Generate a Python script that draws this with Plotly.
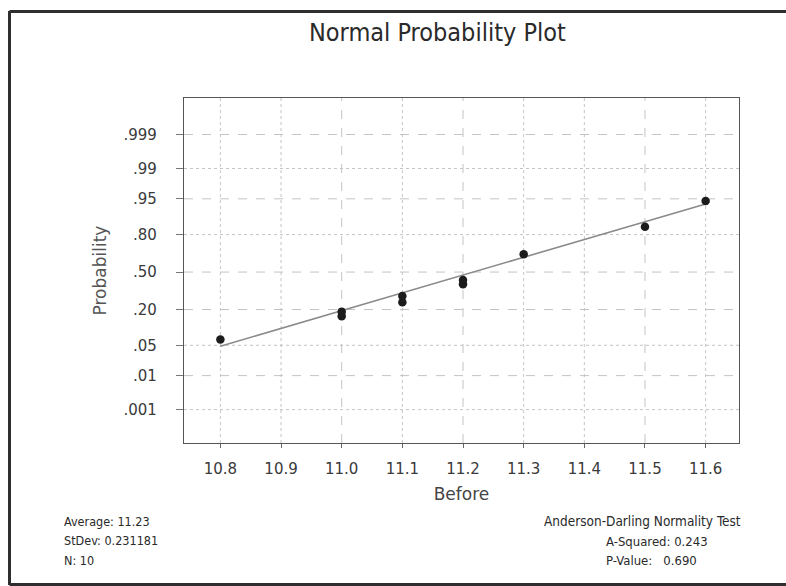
import plotly.graph_objects as go
from statistics import NormalDist

nd = NormalDist()

# ---------------- data ----------------
x_tick_values = [10.8, 10.9, 11.0, 11.1, 11.2, 11.3, 11.4, 11.5, 11.6]
x_tick_labels = ["10.8", "10.9", "11.0", "11.1", "11.2", "11.3", "11.4", "11.5", "11.6"]
prob_tick_values = [0.001, 0.01, 0.05, 0.20, 0.50, 0.80, 0.95, 0.99, 0.999]
prob_tick_labels = [".001", ".01", ".05", ".20", ".50", ".80", ".95", ".99", ".999"]
before_values = [10.8, 11.0, 11.0, 11.1, 11.1, 11.2, 11.2, 11.3, 11.5, 11.6]
plotted_probs = [0.065, 0.161, 0.187, 0.248, 0.295, 0.393, 0.429, 0.655, 0.846, 0.945]
fit_x = [10.8, 11.6]
fit_probs = [0.048, 0.937]
stats_left = ["Average: 11.23", "StDev: 0.231181", "N: 10"]
ad_title = "Anderson-Darling Normality Test"
ad_lines = ["A-Squared: 0.243", "P-Value:   0.690"]

# ---------------- styles ----------------
GRID_DASH_Y = ["dot", "dash", "dot", "dash", "dash", "dot", "dash", "dot", "dash"]
GRID_DASH_X = ["dot", "dot", "dash", "dot", "dash", "dot", "dot", "dash", "dot"]
W, H = 786, 586
ML, MR, MT, MB = 184, 47, 98, 143
PW, PH = W - ML - MR, H - MT - MB


def px_x(px):
    return (px - ML) / PW


def px_y(py):
    return (H - MB - py) / PH


z = lambda p: nd.inv_cdf(p)

fig = go.Figure()

fig.add_trace(go.Scatter(
    x=fit_x, y=[z(p) for p in fit_probs], mode="lines",
    line=dict(color="#8a8a8a", width=1.6), hoverinfo="skip", showlegend=False))

fig.add_trace(go.Scatter(
    x=before_values, y=[z(p) for p in plotted_probs], mode="markers",
    marker=dict(color="#1c1c1c", size=8.5), showlegend=False))

shapes = []
for p, d in zip(prob_tick_values, GRID_DASH_Y):
    shapes.append(dict(type="line", xref="paper", yref="y", x0=0, x1=1,
                       y0=z(p), y1=z(p), layer="below",
                       line=dict(color="#c4c4c4", width=1, dash=d)))
for xv, d in zip(x_tick_values, GRID_DASH_X):
    shapes.append(dict(type="line", xref="x", yref="paper", x0=xv, x1=xv,
                       y0=0, y1=1, layer="below",
                       line=dict(color="#c4c4c4", width=1, dash=d)))
# outer frame (scanned page border)
frame = dict(color="#2e2e2e", width=3)
shapes.append(dict(type="line", xref="paper", yref="paper",
                   x0=px_x(9.5), x1=px_x(9.5), y0=px_y(11), y1=px_y(585), line=frame))
shapes.append(dict(type="line", xref="paper", yref="paper",
                   x0=px_x(9.5), x1=px_x(800), y0=px_y(11.5), y1=px_y(11.5), line=frame))
shapes.append(dict(type="line", xref="paper", yref="paper",
                   x0=px_x(9.5), x1=px_x(800), y0=px_y(584.5), y1=px_y(584.5), line=frame))

NARROW = "DejaVu Sans Condensed, Liberation Sans Narrow, Arial Narrow, DejaVu Sans, sans-serif"
annotations = [
    dict(text="Normal Probability Plot", x=px_x(437), y=px_y(32), xref="paper", yref="paper",
         showarrow=False, xanchor="center", yanchor="middle",
         font=dict(family=NARROW, size=25, color="#2a2a2a")),
]
for i, t in enumerate(stats_left):
    annotations.append(dict(text=t, x=px_x(62), y=px_y(521 + 19.5 * i), xref="paper", yref="paper",
                            showarrow=False, xanchor="left", yanchor="middle",
                            font=dict(family=NARROW, size=12.5, color="#2a2a2a")))
annotations.append(dict(text=ad_title, x=px_x(642), y=px_y(521), xref="paper", yref="paper",
                        showarrow=False, xanchor="center", yanchor="middle",
                        font=dict(family=NARROW, size=13.5, color="#2a2a2a")))
for i, t in enumerate(ad_lines):
    annotations.append(dict(text=t, x=px_x(604), y=px_y(541 + 19.5 * i), xref="paper", yref="paper",
                            showarrow=False, xanchor="left", yanchor="middle",
                            font=dict(family=NARROW, size=13, color="#2a2a2a")))

fig.update_layout(
    width=W, height=H,
    margin=dict(l=ML, r=MR, t=MT, b=MB),
    paper_bgcolor="white", plot_bgcolor="white",
    shapes=shapes, annotations=annotations,
    font=dict(family="DejaVu Sans, Verdana, sans-serif", color="#3a3a3a"),
    xaxis=dict(range=[10.74, 11.655], tickmode="array", tickvals=x_tick_values,
               ticktext=x_tick_labels, showgrid=False, zeroline=False,
               showline=True, mirror=True, linecolor="#555", linewidth=1.3,
               ticks="outside", ticklen=4, tickcolor="#666", ticklabelstandoff=8,
               tickfont=dict(size=15, color="#3a3a3a"),
               title=dict(text="Before", standoff=10, font=dict(size=17, color="#444"))),
    yaxis=dict(range=[-3.84, 3.91], tickmode="array",
               tickvals=[z(p) for p in prob_tick_values], ticktext=prob_tick_labels,
               showgrid=False, zeroline=False,
               showline=True, mirror=True, linecolor="#555", linewidth=1.3,
               ticks="outside", ticklen=7, tickcolor="#777", ticklabelstandoff=16,
               tickfont=dict(size=15, color="#3a3a3a"),
               title=dict(text="Probability", standoff=12, font=dict(size=17, color="#555"))),
)

fig.write_html("out.html")
